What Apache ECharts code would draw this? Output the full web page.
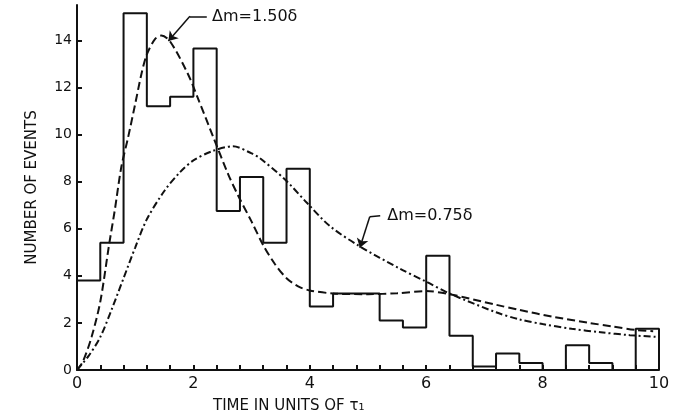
<!DOCTYPE html>
<html>
<head>
<meta charset="utf-8">
<script src="https://cdn.jsdelivr.net/npm/echarts@6/dist/echarts.min.js"></script>
<style>
  html, body { margin: 0; padding: 0; background: #fff; }
  #chart { width: 684px; height: 419px; }
</style>
</head>
<body>
<div id="chart"></div>
<script>
// histogram: bins of 0.4 tau_1 from 0 to 10
var binWidth = 0.4;
var binCounts = [3.8, 5.4, 15.15, 11.2, 11.6, 13.65, 6.75, 8.2, 5.4, 8.55,
                 2.7, 3.25, 3.25, 2.1, 1.8, 4.85, 1.45, 0.15, 0.7, 0.3,
                 0, 1.05, 0.3, 0, 1.75];

// curve for dm = 1.50 delta (dashed)
var time150 = [0, 0.1, 0.25, 0.4, 0.55, 0.65, 0.76, 0.88, 1.0, 1.11, 1.2, 1.34, 1.45, 1.6, 1.9, 2.1,
               2.34, 2.6, 2.77, 3.0, 3.2, 3.4, 3.6, 3.8, 4.0, 4.4, 5.0, 5.5, 6.0, 6.4, 7.2, 7.6,
               8.2, 8.8, 9.2, 9.6, 9.9];
var curve150 = [0, 0.35, 1.4, 2.9, 5.3, 6.8, 8.6, 9.9, 11.3, 12.6, 13.4, 14.05, 14.2, 13.95, 12.6, 11.4,
                9.9, 8.3, 7.4, 6.3, 5.3, 4.5, 3.9, 3.55, 3.38, 3.25, 3.22, 3.26, 3.35, 3.22, 2.77, 2.55,
                2.25, 2.0, 1.85, 1.7, 1.65];

// curve for dm = 0.75 delta (dash-dot)
var time075 = [0, 0.2, 0.4, 0.6, 0.8, 1.0, 1.2, 1.5, 1.77, 2.0, 2.33, 2.68, 3.0, 3.14, 3.57, 3.95,
               4.35, 4.86, 5.55, 6.0, 6.4, 7.2, 7.6, 8.0, 8.5, 9.0, 9.5, 10.0];
var curve075 = [0, 0.6, 1.4, 2.6, 3.9, 5.2, 6.4, 7.6, 8.4, 8.9, 9.3, 9.5, 9.2, 9.0, 8.1, 7.1,
                6.1, 5.25, 4.3, 3.75, 3.25, 2.45, 2.15, 1.95, 1.75, 1.6, 1.48, 1.4];

var xLabels = [0, 2, 4, 6, 8, 10];
var yLabels = [0, 2, 4, 6, 8, 10, 12, 14];

// annotation text anchors and leader lines, in data units
var label150 = [2.32, 14.98];
var leader150 = [[2.23, 15.02], [1.94, 15.02], [1.57, 13.97]];
var label075 = [5.33, 6.55];
var leader075 = [[5.21, 6.55], [5.03, 6.51], [4.86, 5.19]];

var binEdges = [];
for (var i = 0; i <= binCounts.length; i++) binEdges.push(+(i * binWidth).toFixed(2));

var histPoints = [];
binCounts.forEach(function (c, i) {
    histPoints.push([binEdges[i], c]);
    histPoints.push([binEdges[i + 1], c]);
});
histPoints.push([binEdges[binEdges.length - 1], 0]);

function pairs(xs, ys) {
    return xs.map(function (x, i) { return [x, ys[i]]; });
}

function leaderLines(pts) {
    return [
        [{ coord: pts[0], symbol: 'none' }, { coord: pts[1], symbol: 'none' }],
        [{ coord: pts[1], symbol: 'none' }, { coord: pts[2], symbol: 'arrow' }]
    ];
}

var ink = '#111';
var font = 'DejaVu Sans';

var chart = echarts.init(document.getElementById('chart'));
chart.setOption({
    animation: false,
    backgroundColor: '#fff',
    grid: { left: 77, right: 25, top: 5, bottom: 49 },
    xAxis: {
        type: 'value',
        min: 0,
        max: 10,
        axisLine: { lineStyle: { color: ink, width: 2 } },
        axisTick: { inside: true, length: 5, customValues: binEdges, lineStyle: { color: ink, width: 2 } },
        axisLabel: { customValues: xLabels, color: ink, fontFamily: font, fontSize: 16, margin: 6 },
        splitLine: { show: false }
    },
    yAxis: {
        type: 'value',
        min: 0,
        max: 15.5,
        name: 'NUMBER OF EVENTS',
        nameLocation: 'middle',
        nameGap: 37,
        nameTextStyle: { color: ink, fontFamily: font, fontSize: 15 },
        axisLine: { show: true, lineStyle: { color: ink, width: 2 } },
        axisTick: { show: true, inside: true, length: 5, customValues: yLabels, lineStyle: { color: ink, width: 2 } },
        axisLabel: { customValues: yLabels, color: ink, fontFamily: font, fontSize: 14, margin: 5 },
        splitLine: { show: false }
    },
    graphic: [{
        type: 'text',
        left: 213,
        top: 399,
        style: { text: 'TIME IN UNITS OF \u03c4\u2081', fill: ink, font: '15px "DejaVu Sans"' }
    }],
    series: [
        {
            name: 'events',
            type: 'line',
            data: histPoints,
            symbol: 'none',
            lineStyle: { color: ink, width: 2 },
            markLine: {
                silent: true,
                symbolSize: 9,
                label: { show: false },
                lineStyle: { color: ink, width: 1.5, type: 'solid' },
                data: leaderLines(leader150).concat(leaderLines(leader075))
            },
            markPoint: {
                symbolSize: 0,
                label: { show: true, position: 'right', distance: 0, color: ink, fontFamily: font, fontSize: 16 },
                data: [
                    { coord: label150, value: '\u0394m=1.50\u03b4', label: { formatter: '\u0394m=1.50\u03b4' } },
                    { coord: label075, value: '\u0394m=0.75\u03b4', label: { formatter: '\u0394m=0.75\u03b4' } }
                ]
            }
        },
        {
            name: '\u0394m=1.50\u03b4',
            type: 'line',
            data: pairs(time150, curve150),
            smooth: 0.3,
            symbol: 'none',
            lineStyle: { color: ink, width: 2, type: [8, 4] }
        },
        {
            name: '\u0394m=0.75\u03b4',
            type: 'line',
            data: pairs(time075, curve075),
            smooth: 0.3,
            symbol: 'none',
            lineStyle: { color: ink, width: 2, type: [7, 3, 2, 3] }
        }
    ]
});
</script>
</body>
</html>
